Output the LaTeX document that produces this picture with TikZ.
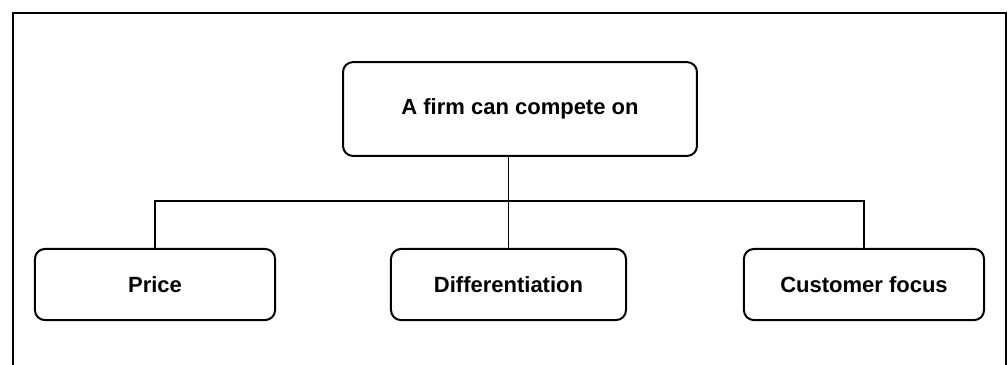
\documentclass[tikz,border=0pt]{standalone}
\usepackage{fontspec}
\setmainfont{Liberation Sans}
\usepackage{tikz}
\usetikzlibrary{positioning}

\begin{document}
\begin{tikzpicture}
	\useasboundingbox (0,0) rectangle (17.714,6.397);
	\draw [line width=1pt] (0.228,-0.3) -- (0.228,6.168) -- (17.678,6.168) -- (17.678,-0.3);
	\tikzstyle{every node}=[font=\bfseries\fontsize{11}{13}\selectfont, draw, line width=1pt, rounded corners=5pt, align=center, inner sep=0pt]
	\draw (9.138,4.481) node (firm) [minimum width=6.22cm, minimum height=1.65cm]{A firm can compete on};
	\draw (2.724,1.397) node (price) [minimum width=4.22cm, minimum height=1.25cm]{Price};
	\draw (8.936,1.397) node (diff) [minimum width=4.13cm, minimum height=1.25cm]{Differentiation};
	\draw (15.183,1.397) node (cust) [minimum width=4.22cm, minimum height=1.25cm]{Customer focus};
	\tikzstyle{every node}=[font=\scriptsize, draw=none]
	\draw [line width=0.7pt] (firm.south -| diff.north) -- (diff.north);
	\draw [line width=0.7pt] (price.north) -- ++(0,0.826) -| (cust.north);
\end{tikzpicture}
\end{document}
